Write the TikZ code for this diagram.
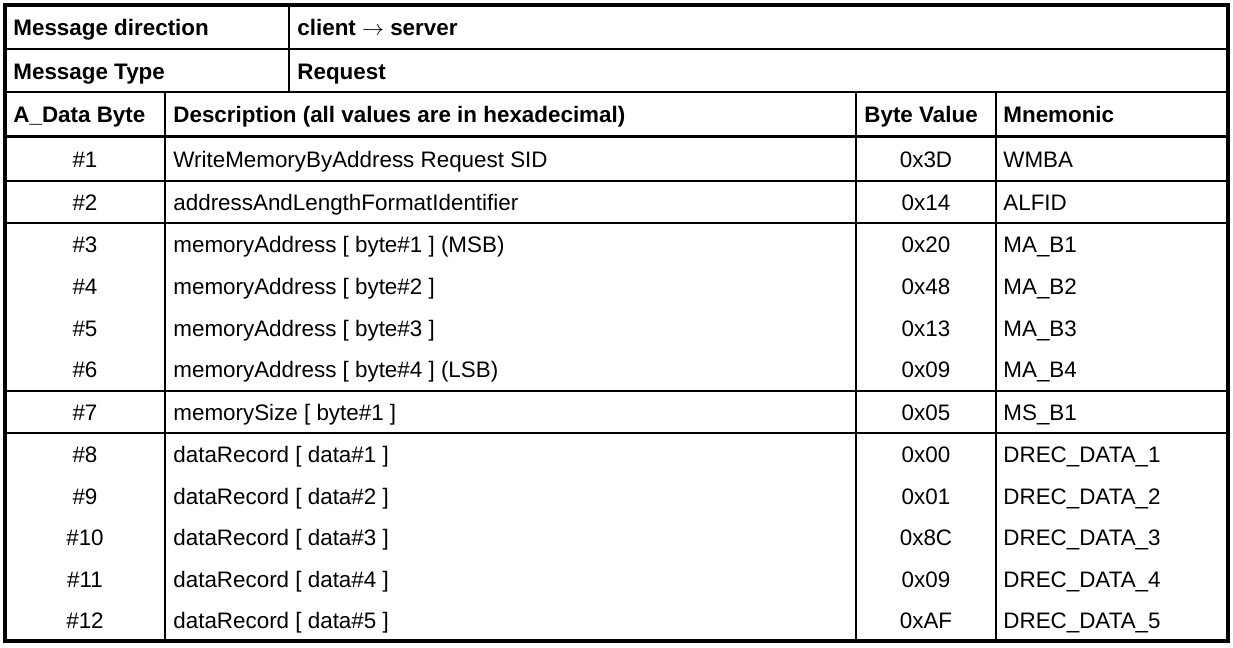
\documentclass[tikz,border=0pt]{standalone}
\usepackage{fontspec}
\setmainfont{Liberation Sans}
\begin{document}
\begin{tikzpicture}[x=0.5pt, y=-0.5pt,
    every node/.style={font=\fontsize{11.2}{13.4}\selectfont, inner sep=0pt, text height=8pt, text depth=0pt},
    lcell/.style={anchor=west},
    ccell/.style={anchor=center},
    hcell/.style={anchor=west, font=\fontsize{11.2}{13.4}\selectfont\bfseries},
    rule/.style={line width=1pt},
    headrule/.style={line width=1.6pt},
    frame/.style={line width=2pt}]
    \useasboundingbox (0,0) rectangle (1233,648);

    % Grid lines
    \draw[rule] (5,49) -- (1228,49);
    \draw[rule] (5,92) -- (1228,92);
    \draw[headrule] (5,136.5) -- (1228,136.5);
    \draw[rule] (5,181) -- (1228,181);
    \draw[rule] (5,223) -- (1228,223);
    \draw[rule] (5,391) -- (1228,391);
    \draw[rule] (5,433) -- (1228,433);
    \draw[rule] (288.7,5) -- (288.7,92);
    \draw[rule] (165,92) -- (165,641);
    \draw[rule] (856,92) -- (856,641);
    \draw[rule] (995.7,92) -- (995.7,641);
    % Outer frame
    \draw[frame] (5,5) rectangle (1228,641);

    % Message header
    \node[hcell] (msgdir) at (13,27.5) {Message direction};
    \node[hcell] (msgdirval) at (297,27.5) {client $\rightarrow$ server};
    \node[hcell] (msgtype) at (13,71) {Message Type};
    \node[hcell] (msgtypeval) at (297,71) {Request};

    % Column header
    \node[hcell] (hbyte) at (13,114.5) {A\_Data Byte};
    \node[hcell] (hdesc) at (173,114.5) {Description (all values are in hexadecimal)};
    \node[hcell] (hval) at (864,114.5) {Byte Value};
    \node[hcell] (hmnem) at (1003,114.5) {Mnemonic};

    % Service ID
    \node[ccell] (b1) at (85,159) {\#1};
    \node[lcell] (d1) at (173,159) {WriteMemoryByAddress Request SID};
    \node[ccell] (v1) at (926,159) {0x3D};
    \node[lcell] (m1) at (1003,159) {WMBA};

    % Format identifier
    \node[ccell] (b2) at (85,202) {\#2};
    \node[lcell] (d2) at (173,202) {addressAndLengthFormatIdentifier};
    \node[ccell] (v2) at (926,202) {0x14};
    \node[lcell] (m2) at (1003,202) {ALFID};

    % Memory address
    \node[ccell] (b3) at (85,244.5) {\#3};
    \node[lcell] (d3) at (173,244.5) {memoryAddress [ byte\#1 ] (MSB)};
    \node[ccell] (v3) at (926,244.5) {0x20};
    \node[lcell] (m3) at (1003,244.5) {MA\_B1};
    \node[ccell] (b4) at (85,286.5) {\#4};
    \node[lcell] (d4) at (173,286.5) {memoryAddress [ byte\#2 ]};
    \node[ccell] (v4) at (926,286.5) {0x48};
    \node[lcell] (m4) at (1003,286.5) {MA\_B2};
    \node[ccell] (b5) at (85,328) {\#5};
    \node[lcell] (d5) at (173,328) {memoryAddress [ byte\#3 ]};
    \node[ccell] (v5) at (926,328) {0x13};
    \node[lcell] (m5) at (1003,328) {MA\_B3};
    \node[ccell] (b6) at (85,369.5) {\#6};
    \node[lcell] (d6) at (173,369.5) {memoryAddress [ byte\#4 ] (LSB)};
    \node[ccell] (v6) at (926,369.5) {0x09};
    \node[lcell] (m6) at (1003,369.5) {MA\_B4};

    % Memory size
    \node[ccell] (b7) at (85,412) {\#7};
    \node[lcell] (d7) at (173,412) {memorySize [ byte\#1 ]};
    \node[ccell] (v7) at (926,412) {0x05};
    \node[lcell] (m7) at (1003,412) {MS\_B1};

    % Data record
    \node[ccell] (b8) at (85,454.5) {\#8};
    \node[lcell] (d8) at (173,454.5) {dataRecord [ data\#1 ]};
    \node[ccell] (v8) at (926,454.5) {0x00};
    \node[lcell] (m8) at (1003,454.5) {DREC\_DATA\_1};
    \node[ccell] (b9) at (85,496) {\#9};
    \node[lcell] (d9) at (173,496) {dataRecord [ data\#2 ]};
    \node[ccell] (v9) at (926,496) {0x01};
    \node[lcell] (m9) at (1003,496) {DREC\_DATA\_2};
    \node[ccell] (b10) at (85,537.5) {\#10};
    \node[lcell] (d10) at (173,537.5) {dataRecord [ data\#3 ]};
    \node[ccell] (v10) at (926,537.5) {0x8C};
    \node[lcell] (m10) at (1003,537.5) {DREC\_DATA\_3};
    \node[ccell] (b11) at (85,579) {\#11};
    \node[lcell] (d11) at (173,579) {dataRecord [ data\#4 ]};
    \node[ccell] (v11) at (926,579) {0x09};
    \node[lcell] (m11) at (1003,579) {DREC\_DATA\_4};
    \node[ccell] (b12) at (85,620.5) {\#12};
    \node[lcell] (d12) at (173,620.5) {dataRecord [ data\#5 ]};
    \node[ccell] (v12) at (926,620.5) {0xAF};
    \node[lcell] (m12) at (1003,620.5) {DREC\_DATA\_5};
\end{tikzpicture}
\end{document}
